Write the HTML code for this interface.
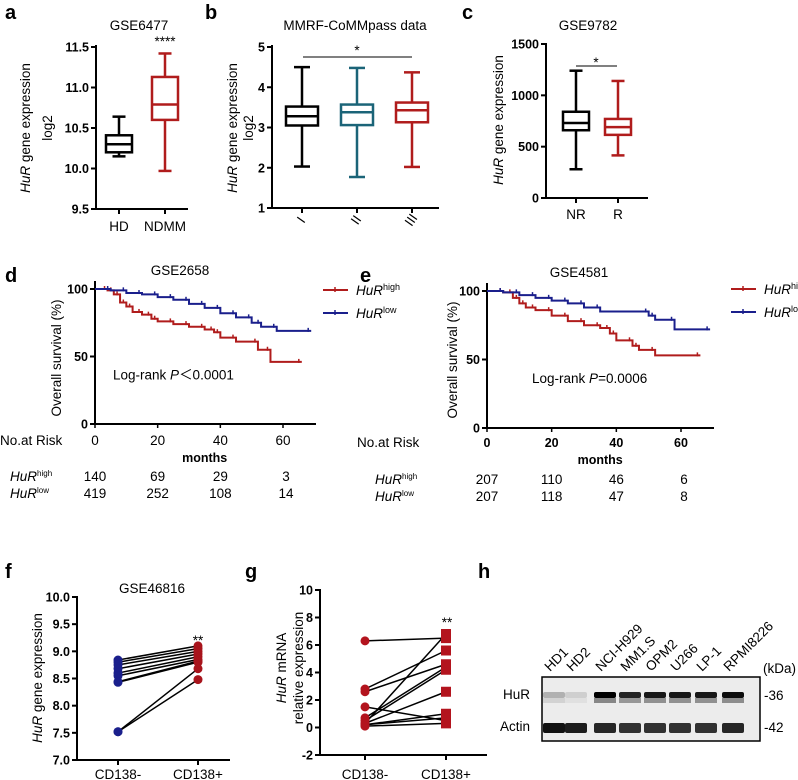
<!DOCTYPE html>
<html><head><meta charset="utf-8"><style>
html,body{margin:0;padding:0;background:#fff}
svg{display:block;font-family:"Liberation Sans",Arial,sans-serif}
.tk{font-size:12.5px;font-weight:bold}
.t{font-size:13.5px}
.L{font-size:20px;font-weight:bold}
</style></head><body>
<svg id="fig" width="798" height="780" viewBox="0 0 798 780"></svg>
<script>
// ---- data ----
const aCats=["HD","NDMM"];
const aBox=[[10.15,10.2,10.3,10.41,10.64],[9.97,10.6,10.79,11.13,11.42]];
const bCats=["I","II","III"];
const bBox=[[2.03,3.05,3.28,3.52,4.5],[1.77,3.06,3.38,3.57,4.48],[2.02,3.13,3.43,3.62,4.37]];
const cCats=["NR","R"];
const cBox=[[280,660,730,840,1240],[415,615,690,770,1140]];
const dHighT=[0,4,6,8,10,12,15,18,20,25,30,35,38,40,45,52,56,66];
const dHighS=[100,99,96,90,87,83,81,78,76,74,72,70,68,64,61,55,46,46];
const dLowT=[0,5,10,15,20,25,30,35,40,45,50,53,58,69];
const dLowS=[100,99,97,96,94,92,89,86,82,79,75,72,69,69];
const eHighT=[0,5,8,10,12,15,20,25,30,35,38,40,45,47,52,66];
const eHighS=[100,99,95,91,88,86,82,78,75,73,69,64,60,57,53,53];
const eLowT=[0,5,10,15,20,25,30,35,50,52,58,69];
const eLowS=[100,99,97,95,93,91,88,85,82,79,72,72];
const dRiskHigh=[140,69,29,3], dRiskLow=[419,252,108,14];
const eRiskHigh=[207,110,46,6], eRiskLow=[207,118,47,8];
const fLeft=[8.84,8.8,8.75,8.68,8.6,8.55,8.44,8.43,7.52,7.52];
const fRight=[9.1,9.05,9.0,8.95,8.9,8.85,8.82,8.8,8.68,8.48];
const gLeft=[6.3,2.8,2.6,0.3,0.7,0.5,0.3,0.2,0.2,0.1,1.5];
const gRight=[6.5,5.6,4.6,6.8,4.4,4.2,2.6,1.0,0.7,0.3,0.5];
const lanes=["HD1","HD2","NCI-H929","MM1.S","OPM2","U266","LP-1","RPMI8226"];
const hurInt=[0.25,0.12,1,0.85,0.9,0.9,0.9,0.95];
const actInt=[1,0.95,0.9,0.85,0.85,0.85,0.85,0.9];

const NS="http://www.w3.org/2000/svg";
const svg=document.getElementById('fig');
function el(tag,attrs,parent){const e=document.createElementNS(NS,tag);for(const k in attrs)e.setAttribute(k,attrs[k]);(parent||svg).appendChild(e);return e;}
function txt(x,y,s,cls,anchor,parent,extra){const e=el('text',Object.assign({x:x,y:y,'class':cls||'t','text-anchor':anchor||'middle'},extra||{}),parent);e.textContent=s;return e;}
function lin(v0,v1,p0,p1){return v=>p0+(v-v0)*(p1-p0)/(v1-v0);}
function group(name){const g=el('g',{});return g;}
function yaxis(g,x,y0,y1,ticks,sy,fmt){el('line',{x1:x,y1:y0,x2:x,y2:y1,stroke:'#000','stroke-width':2},g);ticks.forEach(t=>{const y=sy(t);el('line',{x1:x-5,y1:y,x2:x,y2:y,stroke:'#000','stroke-width':2},g);txt(x-7,y+4.5,fmt?fmt(t):String(t),'tk','end',g);});}
function xaxis(g,y,x0,x1){el('line',{x1:x0,y1:y,x2:x1,y2:y,stroke:'#000','stroke-width':2},g);}
function ylabel(g,x,y,lines,sp){const t=el('text',{transform:`translate(${x},${y}) rotate(-90)`,'text-anchor':'middle','class':'t'},g);lines.forEach((ln,i)=>{const ts=el('tspan',{x:0,dy:i?(sp||16):0},t);ln.forEach(p=>{const s=el('tspan',p[1]?{'font-style':'italic'}:{},ts);s.textContent=p[0];});});return t;}
function box(g,x,v,sy,col,hw){const [mn,q1,md,q3,mx]=v.map(sy);const w=2.5;
 el('line',{x1:x,y1:mx,x2:x,y2:q3,stroke:col,'stroke-width':w},g);el('line',{x1:x,y1:q1,x2:x,y2:mn,stroke:col,'stroke-width':w},g);
 el('line',{x1:x-hw/2,y1:mx,x2:x+hw/2,y2:mx,stroke:col,'stroke-width':w},g);el('line',{x1:x-hw/2,y1:mn,x2:x+hw/2,y2:mn,stroke:col,'stroke-width':w},g);
 el('rect',{x:x-hw,y:q3,width:hw*2,height:q1-q3,fill:'none',stroke:col,'stroke-width':w},g);
 el('line',{x1:x-hw,y1:md,x2:x+hw,y2:md,stroke:col,'stroke-width':w},g);}

// letters
[["a",5,19],["b",205,19],["c",462,19],["d",5,282],["e",360,282],["f",5,578],["g",245,578],["h",478,578]].forEach(l=>{const t=txt(l[1],l[2],l[0],'L','start');});

// ---- panel a ----
{const g=group('panel-a-boxplot');const sy=lin(9.5,11.5,209,47);
 txt(139,30,"GSE6477",'t','middle',g);yaxis(g,96,45,209,[9.5,10.0,10.5,11.0,11.5],sy,t=>t.toFixed(1));xaxis(g,209,96,188);
 const xs=[119,165];const cols=["#000","#b01c1c"];
 aBox.forEach((b,i)=>{box(g,xs[i],b,sy,cols[i],13);el('line',{x1:xs[i],y1:209,x2:xs[i],y2:214,stroke:'#000','stroke-width':2},g);txt(xs[i],231,aCats[i],'t','middle',g);});
 txt(165,46,"****",'t','middle',g,{'font-size':'10px'});
 ylabel(g,30,128,[[["HuR",1],[" gene expression",0]],[["log2",0]]],22);}

// ---- panel b ----
{const g=group('panel-b-boxplot');const sy=lin(1,5,208,47);
 txt(355,30,"MMRF-CoMMpass data",'t','middle',g);yaxis(g,272,45,208,[1,2,3,4,5],sy);xaxis(g,208,272,439);
 const xs=[302,357,412];const cols=["#000","#1b6478","#b01c1c"];
 bBox.forEach((b,i)=>{box(g,xs[i],b,sy,cols[i],16);el('line',{x1:xs[i],y1:208,x2:xs[i],y2:213,stroke:'#000','stroke-width':2},g);txt(xs[i]+2,225,bCats[i],'t','middle',g,{transform:`rotate(-55 ${xs[i]} 223)`});});
 el('line',{x1:303,y1:57,x2:412,y2:57,stroke:'#000','stroke-width':1},g);txt(357,55,"*",'t','middle',g);
 ylabel(g,237,128,[[["HuR",1],[" gene expression",0]],[["log2",0]]],16);}

// ---- panel c ----
{const g=group('panel-c-boxplot');const sy=lin(0,1500,198,44);
 txt(588,30,"GSE9782",'t','middle',g);yaxis(g,546,43,198,[0,500,1000,1500],sy);xaxis(g,198,546,648);
 const xs=[576,618];const cols=["#000","#b01c1c"];
 cBox.forEach((b,i)=>{box(g,xs[i],b,sy,cols[i],13);el('line',{x1:xs[i],y1:198,x2:xs[i],y2:203,stroke:'#000','stroke-width':2},g);txt(xs[i],219,cCats[i],'t','middle',g);});
 el('line',{x1:576,y1:66,x2:617,y2:66,stroke:'#000','stroke-width':1},g);txt(596,67,"*",'t','middle',g,{'font-size':'10px'});
 ylabel(g,503,120,[[["HuR",1],[" gene expression",0]]]);}

// ---- KM panels ----
function km(name,ax,ay0,ay100,x60,xend,title,titleX,T1,S1,T2,S2,pText,pX,lgX,lgY,riskX,riskLbl,rH,rL,rowsY,tickBold){
 const g=group(name);const sx=lin(0,60,ax,x60);const sy=lin(0,100,ay0,ay100);
 txt(titleX,ay100-14,title,'t','middle',g);
 yaxis(g,ax,ay100-8,ay0,[0,50,100],sy);xaxis(g,ay0,ax,xend);
 [0,20,40,60].forEach(t=>{el('line',{x1:sx(t),y1:ay0,x2:sx(t),y2:ay0+4,stroke:'#000','stroke-width':1.5},g);txt(sx(t),rowsY[0],String(t),tickBold?'tk':'t','middle',g);});
 txt(sx(35),rowsY[1],"months",'tk','middle',g);
 txt(riskX,rowsY[0],"No.at Risk",'t','start',g);
 function curve(T,S,col,nm){let d=`M${sx(T[0])},${sy(S[0])}`;for(let i=1;i<T.length;i++){d+=`H${sx(T[i])}V${sy(S[i])}`;}
  const p=el('path',{d:d,fill:'none',stroke:col,'stroke-width':2},g);
  for(let i=1;i<T.length;i++){const x=sx(T[i])-3;el('line',{x1:x,y1:sy(S[i-1])-3,x2:x,y2:sy(S[i-1])+1,stroke:col,'stroke-width':1.5},g);}}
 curve(T1,S1,"#b01c1c",'curve-hur-high');curve(T2,S2,"#1a1f8c",'curve-hur-low');
 const pt=el('text',{x:pX,y:sy(33),'class':'t','text-anchor':'start','font-size':'14px'},g);
 pt.innerHTML=pText;
 [["#b01c1c","high",0],["#1a1f8c","low",23]].forEach(l=>{const y=lgY+l[2];el('line',{x1:lgX,y1:y,x2:lgX+25,y2:y,stroke:l[0],'stroke-width':2},g);el('line',{x1:lgX+12,y1:y-3,x2:lgX+12,y2:y+2,stroke:l[0],'stroke-width':1.5},g);
  const t=el('text',{x:lgX+33,y:y+5,'class':'t','text-anchor':'start'},g);t.innerHTML=`<tspan font-style="italic">HuR</tspan><tspan font-size="9" dy="-5">${l[1]}</tspan>`;});
 [[rH,"high",rowsY[2]],[rL,"low",rowsY[3]]].forEach(r=>{const t=el('text',{x:riskLbl,y:r[2],'class':'t','text-anchor':'start'},g);t.innerHTML=`<tspan font-style="italic">HuR</tspan><tspan font-size="8" dy="-5">${r[1]}</tspan>`;
  r[0].forEach((v,i)=>txt(sx(i*20)+(i==3?3:0),r[2],String(v),'t','middle',g));});
 return g;}
{const g=km('panel-d-survival',95,424,289,283,316,"GSE2658",180,dHighT,dHighS,dLowT,dLowS,'Log-rank <tspan font-style="italic">P</tspan>＜0.0001',113,323,290,0,10,dRiskHigh,dRiskLow,[445,462,481,498],false);
 ylabel(g,61,358,[[["Overall survival (%)",0]]]);}
{const g=km('panel-e-survival',487,428,291,681,714,"GSE4581",579,eHighT,eHighS,eLowT,eLowS,'Log-rank <tspan font-style="italic">P</tspan>=0.0006',532,731,289,357,375,eRiskHigh,eRiskLow,[447,464,484,501],true);
 ylabel(g,457,360,[[["Overall survival (%)",0]]]);}

// ---- panel f ----
{const g=group('panel-f-paired');const sy=lin(7,10,760,597);
 txt(152,593,"GSE46816",'t','middle',g);yaxis(g,77,596,760,[7.0,7.5,8.0,8.5,9.0,9.5,10.0],sy,t=>t.toFixed(1));xaxis(g,760,77,230);
 const xl=118,xr=198;
 fLeft.forEach((v,i)=>{el('line',{x1:xl,y1:sy(v),x2:xr,y2:sy(fRight[i]),stroke:'#000','stroke-width':1.5},g);});
 fLeft.forEach(v=>{const c=el('circle',{cx:xl,cy:sy(v),r:4.5,fill:'#1a1f8c'},g);});
 fRight.forEach(v=>{const c=el('circle',{cx:xr,cy:sy(v),r:4.5,fill:'#a8141c'},g);});
 [xl,xr].forEach((x,i)=>{el('line',{x1:x,y1:760,x2:x,y2:765,stroke:'#000','stroke-width':2},g);txt(x,779,i?"CD138+":"CD138-",'t','middle',g);});
 txt(198,645,"**",'t','middle',g,{'font-size':'10px'});
 ylabel(g,42,678,[[["HuR",1],[" gene expression",0]]]);}

// ---- panel g ----
{const g=group('panel-g-paired');const sy=lin(-2,10,755,590);
 yaxis(g,320,589,755,[-2,0,2,4,6,8,10],sy);xaxis(g,755,320,487);
 const xl=365,xr=446;
 gLeft.forEach((v,i)=>{el('line',{x1:xl,y1:sy(v),x2:xr,y2:sy(gRight[i]),stroke:'#000','stroke-width':1.5},g);});
 gLeft.forEach(v=>{const c=el('circle',{cx:xl,cy:sy(v),r:4.5,fill:'#b3141e'},g);});
 gRight.forEach(v=>{const r=el('rect',{x:xr-5,y:sy(v)-5,width:10,height:10,fill:'#b3141e'},g);});
 [xl,xr].forEach((x,i)=>{el('line',{x1:x,y1:755,x2:x,y2:760,stroke:'#000','stroke-width':2},g);txt(x,779,i?"CD138+":"CD138-",'t','middle',g);});
 txt(447,627,"**",'t','middle',g,{'font-size':'10px'});
 ylabel(g,286,668,[[["HuR",1],[" mRNA",0]],[["relative expression",0]]],17);}

// ---- panel h ----
{const g=group('panel-h-western-blot');
 el('rect',{x:542,y:677,width:218,height:64,fill:'#ececec',stroke:'#000','stroke-width':1.5},g);
 const lx=[554,576,605,630,655,680,706,733];
 lanes.forEach((n,i)=>{txt(lx[i]-4,672,n,'t','start',g,{transform:`rotate(-45 ${lx[i]-4} 672)`,'font-size':'11.5px'});
  el('rect',{x:lx[i]-11,y:692,width:22,height:6,rx:2,fill:'#000','fill-opacity':hurInt[i]},g);
  el('rect',{x:lx[i]-11,y:698,width:22,height:5,fill:'#444','fill-opacity':hurInt[i]*0.6},g);
  el('rect',{x:lx[i]-11,y:723,width:22,height:10,rx:2,fill:'#111','fill-opacity':actInt[i]},g);});
 txt(763,673,"(kDa)",'t','start',g,{'font-size':'12px'});
 txt(764,700,"-36",'t','start',g,{'font-size':'12px'});
 txt(764,732,"-42",'t','start',g,{'font-size':'12px'});
 txt(503,699,"HuR",'t','start',g);txt(500,731,"Actin",'t','start',g);}
</script>
</body></html>
